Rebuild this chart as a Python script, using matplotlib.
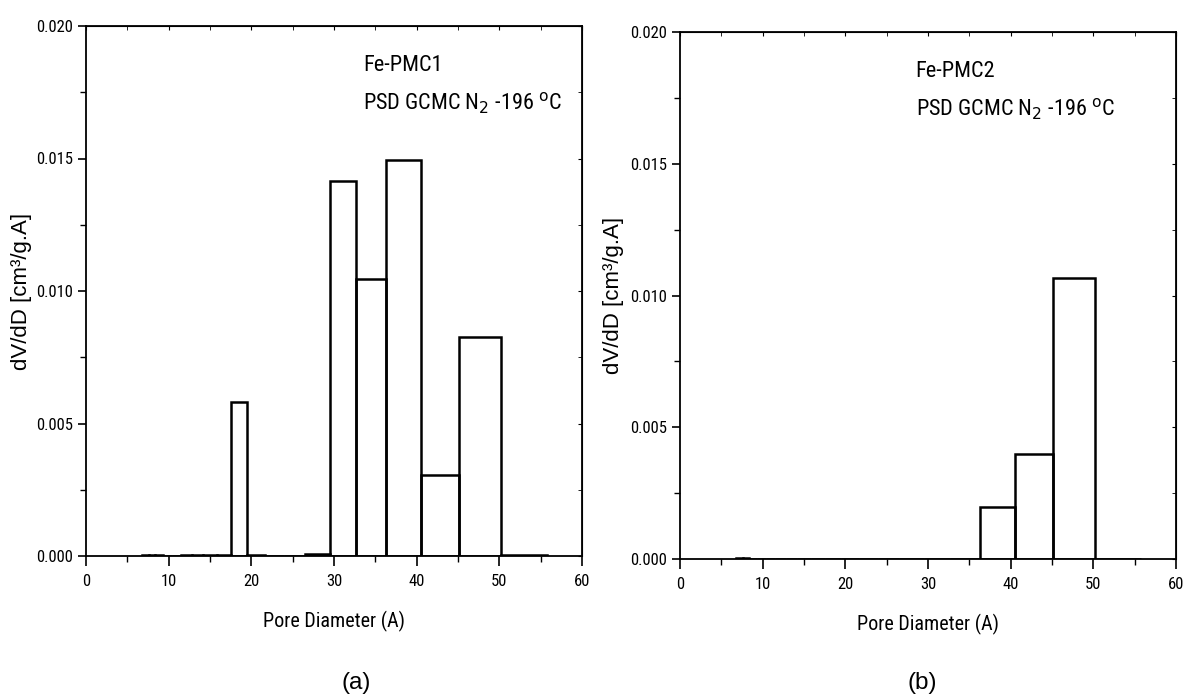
import numpy as np
import matplotlib
matplotlib.use('Agg')
import matplotlib.pyplot as plt
from matplotlib import font_manager
from matplotlib.font_manager import FontProperties
from matplotlib.ticker import MultipleLocator, FormatStrFormatter

# pore-width bins (A) and dV/dD for the two samples
bin_edges = [6.8, 7.6, 8.4, 9.3, 10.4, 11.5, 12.8, 14.2, 15.8, 17.5, 19.5,
             21.6, 24.0, 26.5, 29.5, 32.7, 36.3, 40.5, 45.1, 50.2, 55.8]
psd_pmc1 = [0.00002, 0.00004, 0.00002, 0.00001, 0.00001, 0.00002, 0.00004,
            0.00002, 0.00005, 0.0058, 0.00002, 0.00001, 0.00001, 0.00006,
            0.01414, 0.01046, 0.01496, 0.00305, 0.00826, 0.00002]
psd_pmc2 = [0.00004, 0.00005, 0.00001, 0.0, 0.00001, 0.0, 0.0,
            0.0, 0.0, 0.0, 0.0, 0.0, 0.0, 0.0,
            0.0, 0.00003, 0.00199, 0.00399, 0.01067, 0.00002]
sample_names = ['Fe-PMC1', 'Fe-PMC2']
panel_tags = ['(a)', '(b)']


def find_narrow_font():
    # look for a condensed sans face; fall back to Liberation Sans
    fonts = font_manager.fontManager.ttflist
    for want in ['Liberation Sans Narrow', 'Roboto Condensed',
                 'Open Sans Condensed']:
        for f in fonts:
            if f.name == want and f.weight in (400, 'normal', 'regular') \
                    and f.style == 'normal':
                return f.fname
    for f in fonts:
        low = f.fname.lower()
        if ('condensed' in low or 'narrow' in low) and 'bold' not in low \
                and 'oblique' not in low and 'italic' not in low \
                and 'light' not in low and 'mono' not in low:
            return f.fname
    return font_manager.findfont('Liberation Sans')


narrow_fp = FontProperties(fname=find_narrow_font())
narrow_name = narrow_fp.get_name()
plt.rcParams['font.family'] = ['Liberation Sans', 'DejaVu Sans']
plt.rcParams['mathtext.fontset'] = 'custom'
plt.rcParams['mathtext.rm'] = narrow_name
plt.rcParams['mathtext.it'] = narrow_name


def narrow(size):
    fp = narrow_fp.copy()
    fp.set_size(size)
    return fp


def draw_panel(ax, values, name, text_x, text_y, label_x):
    edges = np.array(bin_edges)
    ax.bar(edges[:-1], values, width=np.diff(edges), align='edge',
           fill=False, edgecolor='black', linewidth=1.8)
    ax.set_xlim(0, 60)
    ax.set_ylim(0, 0.020)
    ax.xaxis.set_major_locator(MultipleLocator(10))
    ax.xaxis.set_minor_locator(MultipleLocator(5))
    ax.yaxis.set_major_locator(MultipleLocator(0.005))
    ax.yaxis.set_minor_locator(MultipleLocator(0.0025))
    ax.yaxis.set_major_formatter(FormatStrFormatter('%.3f'))
    ax.tick_params(axis='x', which='major', direction='out', length=7,
                   width=1.2, pad=6)
    ax.tick_params(axis='x', which='minor', direction='out', length=4,
                   width=1.0)
    ax.tick_params(axis='y', which='major', direction='out', length=6,
                   width=1.2, pad=3.5)
    ax.tick_params(axis='y', which='minor', direction='out', length=4,
                   width=1.0)
    for lbl in ax.get_xticklabels() + ax.get_yticklabels():
        lbl.set_fontproperties(narrow(12))
    for s in ax.spines.values():
        s.set_linewidth(1.3)
    # inward ticks on top and right, no labels
    top = ax.secondary_xaxis('top')
    top.xaxis.set_major_locator(MultipleLocator(10))
    top.xaxis.set_minor_locator(MultipleLocator(5))
    top.tick_params(which='both', direction='in', length=3, labeltop=False)
    right = ax.secondary_yaxis('right')
    right.yaxis.set_major_locator(MultipleLocator(0.005))
    right.yaxis.set_minor_locator(MultipleLocator(0.0025))
    right.tick_params(which='both', direction='in', length=3, labelright=False)

    ax.set_xlabel('Pore Diameter (A)', fontproperties=narrow(14.5))
    ax.xaxis.set_label_coords(0.5, -0.103)
    ax.set_ylabel('dV/dD [cm³/g.A]',
                  fontproperties=FontProperties(family='Liberation Sans',
                                                size=16))
    ax.yaxis.set_label_coords(label_x, 0.5)
    ax.text(text_x, text_y, name, fontproperties=narrow(16), va='center')
    ax.text(text_x, text_y - 0.00143,
            r'PSD GCMC N$_{\mathrm{2}}$ -196 $^{\mathrm{o}}$C',
            fontproperties=narrow(16), va='center')


fig = plt.figure(figsize=(11.86, 6.96), dpi=100)
ax1 = fig.add_axes([86 / 1186, 1 - 556 / 696, 496 / 1186, 530 / 696])
ax2 = fig.add_axes([680 / 1186, 1 - 559.3 / 696, 496 / 1186, 527.6 / 696])

draw_panel(ax1, psd_pmc1, sample_names[0], 33.5, 0.0185, -0.109)
draw_panel(ax2, psd_pmc2, sample_names[1], 28.5, 0.0185, -0.112)

fig.text(356 / 1186, 1 - 683 / 696, panel_tags[0], fontsize=17.5,
         ha='center', va='center')
fig.text(922 / 1186, 1 - 683 / 696, panel_tags[1], fontsize=17.5,
         ha='center', va='center')

fig.savefig('out.png', dpi=100)
